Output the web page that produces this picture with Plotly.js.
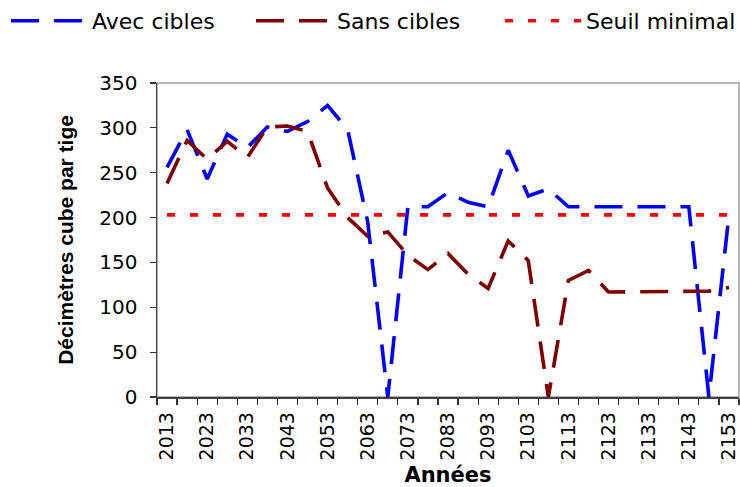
<!DOCTYPE html>
<html><head><meta charset="utf-8">
<script src="https://cdn.plot.ly/plotly-3.0.1.min.js"></script>
<style>html,body{margin:0;padding:0;background:#fff}</style>
</head><body>
<div id="chart" style="width:740px;height:487px"></div>
<script>
const years = [2013, 2018, 2023, 2028, 2033, 2038, 2043, 2048, 2053, 2058,
  2063, 2068, 2073, 2078, 2083, 2088, 2093, 2098, 2103, 2108,
  2113, 2118, 2123, 2128, 2133, 2138, 2143, 2148, 2153];
const avecCibles = [256, 298, 243, 293, 278, 301, 296, 307, 325, 298,
  195, 0, 212, 212, 228, 217, 212, 275, 224, 232,
  212, 212, 212, 212, 212, 212, 212, 0, 203];
const sansCibles = [238, 286, 265, 285, 267, 301, 302, 296, 233, 200,
  179, 184, 158, 142, 160, 137, 121, 174, 152, 0,
  130, 141, 117, 117, 117, 117, 117, 118, 122];
const seuilMinimal = [203, 203, 203, 203, 203, 203, 203, 203, 203, 203,
  203, 203, 203, 203, 203, 203, 203, 203, 203, 203,
  203, 203, 203, 203, 203, 203, 203, 203, 203];
const tickYears = [2013, 2023, 2033, 2043, 2053, 2063, 2073, 2083, 2093, 2103, 2113, 2123, 2133, 2143, 2153];
const tickLabels = ['2013', '2023', '2033', '2043', '2053', '2063', '2073', '2083', '2093', '2103', '2113', '2123', '2133', '2143', '2153'];
const seriesNames = ['Avec cibles', 'Sans cibles', 'Seuil minimal'];

const traces = [
  {x: years, y: avecCibles, name: seriesNames[0], type: 'scatter', mode: 'lines', legend: 'legend',
   line: {color: '#0000FF', width: 3.6, dash: '28px,15px'}},
  {x: years, y: sansCibles, name: seriesNames[1], type: 'scatter', mode: 'lines', legend: 'legend2',
   line: {color: '#800000', width: 3.6, dash: '28px,15px'}},
  {x: years, y: seuilMinimal, name: seriesNames[2], type: 'scatter', mode: 'lines', legend: 'legend3',
   line: {color: '#FF0000', width: 3.6, dash: '8px,15px'}}
];

function legendAt(xpx) {
  return {orientation: 'h', xref: 'container', yref: 'container', x: xpx / 740, y: 1, xanchor: 'left', yanchor: 'top',
          font: {size: 22, family: 'DejaVu Sans, sans-serif', color: '#000'}, itemwidth: 76,
          bgcolor: 'rgba(0,0,0,0)', borderwidth: 0};
}

const layout = {
  width: 740, height: 487,
  margin: {l: 157, r: 1, t: 83, b: 90, pad: 0},
  paper_bgcolor: '#ffffff', plot_bgcolor: '#ffffff',
  font: {family: 'DejaVu Sans, sans-serif', color: '#000000'},
  showlegend: true,
  legend: legendAt(6),
  legend2: legendAt(251),
  legend3: legendAt(500),
  xaxis: {
    type: 'linear', range: [2010.5, 2155.5], showgrid: false, zeroline: false,
    tickmode: 'array', tickvals: tickYears, ticktext: tickLabels, tickangle: -90,
    ticks: 'outside', ticklen: 6, tickcolor: 'rgba(0,0,0,0)',
    minor: {tick0: 2010.5, dtick: 5, ticks: 'outside', ticklen: 6, tickcolor: '#333333', tickwidth: 1.2, showgrid: false},
    tickfont: {size: 19, family: 'DejaVu Sans, sans-serif'},
    showline: true, linecolor: '#404040', linewidth: 1.5,
    title: {text: 'Années', font: {size: 21, family: 'DejaVu Sans, sans-serif', weight: 'bold'}, standoff: 20},
    automargin: false
  },
  yaxis: {
    range: [0, 350], dtick: 50, tick0: 0, showgrid: false, zeroline: false,
    ticks: 'outside', ticklen: 6, tickcolor: '#333333', tickwidth: 1.2,
    tickfont: {size: 20, family: 'DejaVu Sans, sans-serif'}, ticklabelstandoff: 8,
    showline: true, linecolor: '#404040', linewidth: 1.5,
    title: {text: 'Décimètres cube par tige', font: {size: 21, family: 'Liberation Sans, Arial, sans-serif', weight: 'bold'}, standoff: 20},
    automargin: false
  },
  shapes: [
    {type: 'rect', xref: 'paper', yref: 'paper', x0: 0, x1: 1, y0: 0, y1: 1,
     line: {color: '#a0a0a0', width: 1.5}, fillcolor: 'rgba(0,0,0,0)', layer: 'below'}
  ]
};

Plotly.newPlot('chart', traces, layout, {displayModeBar: false, staticPlot: true});
</script>
</body></html>
